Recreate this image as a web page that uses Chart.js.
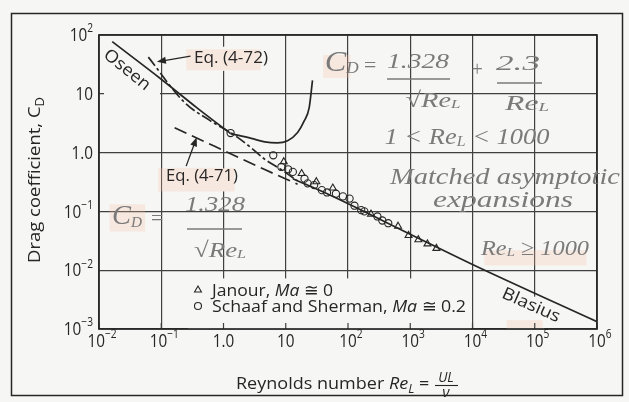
<!DOCTYPE html>
<html>
<head>
<meta charset="utf-8">
<script src="https://cdn.jsdelivr.net/npm/chart.js@4.4.1/dist/chart.umd.min.js"></script>
<style>
  html, body { margin: 0; padding: 0; background: #f6f6f4; }
  #wrap { width: 629px; height: 402px; }
</style>
</head>
<body>
<div id="wrap"><canvas id="cd" width="629" height="402"></canvas></div>
<script>
// axis decades and their labels (base, exponent)
const reTicks = [1e-2, 1e-1, 1, 10, 1e2, 1e3, 1e4, 1e5, 1e6];
const reTickLabels = [['10', '\u22122'], ['10', '\u22121'], ['1.0', ''], ['10', ''], ['10', '2'], ['10', '3'], ['10', '4'], ['10', '5'], ['10', '6']];
const cdTicks = [1e-3, 1e-2, 1e-1, 1, 10, 1e2];
const cdTickLabels = [['10', '\u22123'], ['10', '\u22122'], ['10', '\u22121'], ['1.0', ''], ['10', ''], ['10', '2']];

// curves
const oseenRe = [0.0163, 0.1, 0.38, 1.3];
const oseenCd = [77, 17.7, 5.7, 2.1];
const expansionRe = [1.3, 2.8, 4.6, 7.3, 10.7, 15.5, 19.8, 23.8, 26.9];
const expansionCd = [2.1, 1.75, 1.52, 1.46, 1.59, 2.2, 3.45, 5.8, 16.9];
const eq72Re = [0.062, 0.234, 0.61, 1.53, 2.8, 4.6, 8.3, 15.5];
const eq72Cd = [42, 7.2, 3.5, 1.95, 1.2, 0.77, 0.52, 0.33];
const eq71Re = [0.164, 0.72, 1.86, 4.5, 15.5];
const eq71Cd = [2.65, 1.28, 0.8, 0.52, 0.29];
const blasiusRe = [13, 51, 1000, 1e4, 1e6];
const blasiusCd = [0.36, 0.19, 0.041, 0.0125, 0.00133];

// experiments
const janourRe = [9.3, 18, 31, 57, 234, 637, 940, 1350, 1890, 2630];
const janourCd = [0.70, 0.44, 0.32, 0.25, 0.090, 0.056, 0.039, 0.033, 0.028, 0.0235];
const schaafRe = [1.3, 6.3, 8.5, 10.9, 13, 20, 22.5, 28.6, 38, 46, 64, 83, 106, 127, 163, 183, 297, 356, 443];
const schaafCd = [2.15, 0.90, 0.57, 0.52, 0.47, 0.36, 0.30, 0.28, 0.23, 0.21, 0.20, 0.18, 0.165, 0.125, 0.105, 0.10, 0.082, 0.070, 0.063];

const ink = '#262626';
const gridInk = '#404040';
const pencil = '#7a7a7a';
const paper = '#f6f6f4';
const marker = 'rgba(250, 190, 160, 0.24)';
const font = '"Open Sans", Lato, sans-serif';
const hand = '"Liberation Serif", serif';

const pairs = (xs, ys) => xs.map((x, i) => ({ x: x, y: ys[i] }));

function drawParts(ctx, parts, x, y, opts) {
    opts = opts || {};
    ctx.save();
    let w = 0;
    parts.forEach(p => { ctx.font = p.f; p.w = ctx.measureText(p.t).width; w += p.w; });
    const sx = opts.width ? opts.width / w : (opts.sx || 1);
    ctx.translate(x, y);
    if (opts.rotate) ctx.rotate(opts.rotate * Math.PI / 180);
    ctx.scale(sx, 1);
    let cx = opts.align === 'center' ? -w / 2 : opts.align === 'right' ? -w : 0;
    ctx.fillStyle = opts.color || ink;
    ctx.textBaseline = opts.baseline || 'alphabetic';
    parts.forEach(p => { ctx.font = p.f; ctx.fillText(p.t, cx, p.dy || 0); cx += p.w; });
    ctx.restore();
}

function arrow(ctx, x1, y1, x2, y2) {
    const a = Math.atan2(y2 - y1, x2 - x1);
    ctx.save();
    ctx.strokeStyle = ink;
    ctx.fillStyle = ink;
    ctx.lineWidth = 1.3;
    ctx.beginPath();
    ctx.moveTo(x1, y1);
    ctx.lineTo(x2 - 6 * Math.cos(a), y2 - 6 * Math.sin(a));
    ctx.stroke();
    ctx.beginPath();
    ctx.moveTo(x2, y2);
    ctx.lineTo(x2 - 9 * Math.cos(a) + 3.5 * Math.sin(a), y2 - 9 * Math.sin(a) - 3.5 * Math.cos(a));
    ctx.lineTo(x2 - 9 * Math.cos(a) - 3.5 * Math.sin(a), y2 - 9 * Math.sin(a) + 3.5 * Math.cos(a));
    ctx.closePath();
    ctx.fill();
    ctx.restore();
}

const figure = {
    id: 'figure',
    beforeDraw(chart) {
        const ctx = chart.ctx;
        ctx.save();
        ctx.fillStyle = paper;
        ctx.fillRect(0, 0, chart.width, chart.height);
        ctx.restore();
    },
    beforeDatasetsDraw(chart) {
        const ctx = chart.ctx;
        const X = lx => chart.scales.x.getPixelForValue(Math.pow(10, lx));
        const Y = ly => chart.scales.y.getPixelForValue(Math.pow(10, ly));
        const a = chart.chartArea;
        ctx.save();
        // label backgrounds hide the grid
        ctx.fillStyle = paper;
        ctx.fillRect(X(-0.57), Y(-2.14), X(3.98) - X(-0.57), a.bottom - Y(-2.14));
        ctx.fillRect(X(4.55), Y(-2.45), X(5.15) - X(4.55), a.bottom - Y(-2.45));
        ctx.fillRect(X(-0.62), Y(1.80), X(0.62) - X(-0.62), Y(1.39) - Y(1.80));
        ctx.fillRect(X(-0.98), Y(-0.27), X(0.24) - X(-0.98), Y(-0.66) - Y(-0.27));
        ctx.fillRect(X(-1.92), Y(1.75), X(-1.02) - X(-1.92), Y(0.95) - Y(1.75));
        // highlighter marks
        ctx.fillStyle = marker;
        [[-0.60, 1.76, 0.60, 1.40], [1.60, 1.66, 2.04, 1.27], [-1.83, -0.88, -1.26, -1.34],
         [-1.05, -0.26, 0.18, -0.66], [4.19, -1.66, 5.83, -1.92], [4.55, -2.85, 5.13, -3]]
            .forEach(r => ctx.fillRect(X(r[0]), Y(r[1]), X(r[2]) - X(r[0]), Y(r[3]) - Y(r[1])));
        // inward ticks on the bottom axis
        ctx.strokeStyle = gridInk;
        ctx.lineWidth = 1.2;
        reTicks.forEach(v => {
            const px = chart.scales.x.getPixelForValue(v);
            ctx.beginPath();
            ctx.moveTo(px, a.bottom);
            ctx.lineTo(px, a.bottom - 6);
            ctx.stroke();
        });
        ctx.restore();
    },
    afterDraw(chart) {
        const ctx = chart.ctx;
        const a = chart.chartArea;
        const X = lx => chart.scales.x.getPixelForValue(Math.pow(10, lx));
        const Y = ly => chart.scales.y.getPixelForValue(Math.pow(10, ly));

        ctx.save();
        ctx.strokeStyle = ink;
        ctx.lineWidth = 1.7;
        ctx.strokeRect(a.left, a.top, a.right - a.left, a.bottom - a.top);
        // outer frame of the figure
        ctx.lineWidth = 1.5;
        ctx.strokeRect(11.5, 13.5, 611, 382);
        ctx.restore();

        // tick labels
        const base = '18px ' + font, sup = '12px ' + font;
        cdTicks.forEach((v, i) => {
            const l = cdTickLabels[i];
            drawParts(ctx, [{ t: l[0], f: base }, { t: l[1], f: sup, dy: -7 }],
                a.left - 6, chart.scales.y.getPixelForValue(v) + 1, { align: 'right', baseline: 'middle', sx: 0.85 });
        });
        reTicks.forEach((v, i) => {
            const l = reTickLabels[i];
            drawParts(ctx, [{ t: l[0], f: base }, { t: l[1], f: sup, dy: -7 }],
                chart.scales.x.getPixelForValue(v) + (l[1] ? 3 : 0), a.bottom + 13, { align: 'center', baseline: 'middle', sx: 0.85 });
        });

        // axis titles
        drawParts(ctx, [{ t: 'Drag coefficient, C', f: '17px ' + font }, { t: 'D', f: '12px ' + font, dy: 4 }],
            40, 180, { align: 'center', rotate: -90, width: 166 });
        const tf = '17px ' + font, ti = 'italic 17px ' + font;
        drawParts(ctx, [{ t: 'Reynolds number ', f: tf }, { t: 'Re', f: ti }, { t: 'L', f: 'italic 12px ' + font, dy: 4 },
            { t: ' = ', f: tf }], 434, 389, { align: 'right', width: 198 });
        drawParts(ctx, [{ t: 'UL', f: 'italic 15px ' + font }], 446, 382, { align: 'center', sx: 0.9 });
        drawParts(ctx, [{ t: '\u03bd', f: 'italic 15px ' + font }], 446, 397, { align: 'center' });
        ctx.save();
        ctx.strokeStyle = ink;
        ctx.lineWidth = 1.1;
        ctx.beginPath();
        ctx.moveTo(435, 385.5);
        ctx.lineTo(458, 385.5);
        ctx.stroke();
        ctx.restore();

        // curve labels
        const lf = '17px ' + font;
        drawParts(ctx, [{ t: 'Oseen', f: lf }], X(-1.55), Y(1.405), { align: 'center', baseline: 'middle', rotate: 39, width: 55 });
        drawParts(ctx, [{ t: 'Blasius', f: lf }], X(4.94), Y(-2.6), { align: 'center', baseline: 'middle', rotate: 24, width: 62 });
        drawParts(ctx, [{ t: 'Eq. (4-72)', f: lf }], X(-0.474), Y(1.609), { baseline: 'middle', width: 74 });
        drawParts(ctx, [{ t: 'Eq. (4-71)', f: lf }], X(-0.924), Y(-0.398), { baseline: 'middle', width: 72 });
        arrow(ctx, X(-0.53), Y(1.64), X(-1.07), Y(1.545));
        arrow(ctx, X(-0.60), Y(-0.23), X(-0.43), Y(0.26));

        // legend
        const h = Chart.helpers;
        ctx.save();
        ctx.strokeStyle = ink;
        ctx.fillStyle = 'rgba(0,0,0,0)';
        ctx.lineWidth = 1.1;
        h.drawPoint(ctx, { pointStyle: 'triangle', radius: 4, borderWidth: 1.1 }, X(-0.41), Y(-2.337));
        h.drawPoint(ctx, { pointStyle: 'circle', radius: 3.5, borderWidth: 1.1 }, X(-0.41), Y(-2.609));
        ctx.restore();
        const gf = '17px ' + font, gi = 'italic 17px ' + font;
        drawParts(ctx, [{ t: 'Janour, ', f: gf }, { t: 'Ma', f: gi }, { t: ' \u2245 0', f: gf }],
            X(-0.185), Y(-2.337) + 6, { width: 121 });
        drawParts(ctx, [{ t: 'Schaaf and Sherman, ', f: gf }, { t: 'Ma', f: gi }, { t: ' \u2245 0.2', f: gf }],
            X(-0.185), Y(-2.609) + 6, { width: 254 });

        // pencil notes written on the page
        const hf = n => 'italic ' + n + 'px ' + hand;
        const note = (parts, lx, ly, w) => drawParts(ctx, parts, X(lx), Y(ly), { align: 'center', baseline: 'middle', width: w, color: pencil });
        const bar = (lx1, lx2, ly) => {
            ctx.save();
            ctx.strokeStyle = pencil;
            ctx.lineWidth = 1.5;
            ctx.beginPath();
            ctx.moveTo(X(lx1), Y(ly));
            ctx.lineTo(X(lx2), Y(ly));
            ctx.stroke();
            ctx.restore();
        };
        const reL = n => [{ t: 'Re', f: hf(n) }, { t: 'L', f: hf(n * 0.6), dy: 4 }];
        note([{ t: 'C', f: hf(30) }, { t: 'D', f: hf(16), dy: 6 }], 1.90, 1.52, 34);
        note([{ t: '=', f: hf(22) }], 2.353, 1.47);
        note([{ t: '1.328', f: hf(22) }], 3.124, 1.53, 62);
        bar(2.627, 3.639, 1.252);
        note([{ t: '\u221a', f: hf(22) }].concat(reL(22)), 3.365, 0.878, 55);
        note([{ t: '+', f: hf(20) }], 4.072, 1.388);
        note([{ t: '2.3', f: hf(22) }], 4.731, 1.50, 44);
        bar(4.394, 5.116, 1.184);
        note(reL(22), 4.876, 0.827, 44);
        note([{ t: '1 < ', f: hf(23) }].concat(reL(23), [{ t: ' < 1000', f: hf(23) }]), 3.912, 0.248, 165);
        note([{ t: 'Matched asymptotic', f: hf(23) }], 4.522, -0.432, 230);
        note([{ t: 'expansions', f: hf(23) }], 4.49, -0.823, 140);
        note([{ t: 'C', f: hf(28) }, { t: 'D', f: hf(15), dy: 6 }], -1.55, -1.095, 30);
        note([{ t: '=', f: hf(22) }], -1.068, -1.129);
        note([{ t: '1.328', f: hf(22) }], -0.137, -0.89, 60);
        bar(-0.586, 0.297, -1.299);
        note([{ t: '\u221a', f: hf(22) }].concat(reL(22)), -0.056, -1.673, 52);
        note(reL(22).concat([{ t: ' \u2265 1000', f: hf(22) }]), 5.004, -1.639, 108);
    }
};

const ctx = document.getElementById('cd').getContext('2d');
const line = (data, dash) => ({
    data: data, showLine: true, borderColor: ink, borderWidth: 1.7, borderDash: dash || [],
    pointRadius: 0, cubicInterpolationMode: 'monotone', fill: false
});

new Chart(ctx, {
    type: 'scatter',
    data: {
        datasets: [
            Object.assign(line(pairs(oseenRe, oseenCd)), { label: 'Oseen' }),
            Object.assign(line(pairs(expansionRe, expansionCd)), { label: 'Oseen expansion' }),
            Object.assign(line(pairs(eq72Re, eq72Cd), [11, 3, 3, 3]), { label: 'Eq. (4-72)' }),
            Object.assign(line(pairs(eq71Re, eq71Cd), [13, 6]), { label: 'Eq. (4-71)' }),
            Object.assign(line(pairs(blasiusRe, blasiusCd)), { label: 'Blasius' }),
            {
                label: 'Janour, Ma \u2245 0', data: pairs(janourRe, janourCd), pointStyle: 'triangle',
                pointRadius: 4, borderColor: ink, backgroundColor: 'rgba(0,0,0,0)', borderWidth: 1.1
            },
            {
                label: 'Schaaf and Sherman, Ma \u2245 0.2', data: pairs(schaafRe, schaafCd), pointStyle: 'circle',
                pointRadius: 3.6, borderColor: ink, backgroundColor: 'rgba(0,0,0,0)', borderWidth: 1.1
            }
        ]
    },
    options: {
        responsive: false,
        devicePixelRatio: 1,
        animation: false,
        layout: { padding: { left: 99, right: 32, top: 35, bottom: 73 } },
        plugins: { legend: { display: false }, tooltip: { enabled: false } },
        scales: {
            x: {
                type: 'logarithmic', min: 1e-2, max: 1e6,
                afterBuildTicks: s => { s.ticks = reTicks.map(v => ({ value: v })); },
                grid: { color: gridInk, lineWidth: 1.2, drawTicks: false },
                border: { display: false },
                ticks: { display: false }
            },
            y: {
                type: 'logarithmic', min: 1e-3, max: 1e2,
                afterBuildTicks: s => { s.ticks = cdTicks.map(v => ({ value: v })); },
                grid: { color: gridInk, lineWidth: 1.2, drawTicks: false },
                border: { display: false },
                ticks: { display: false }
            }
        }
    },
    plugins: [figure]
});
</script>
</body>
</html>
